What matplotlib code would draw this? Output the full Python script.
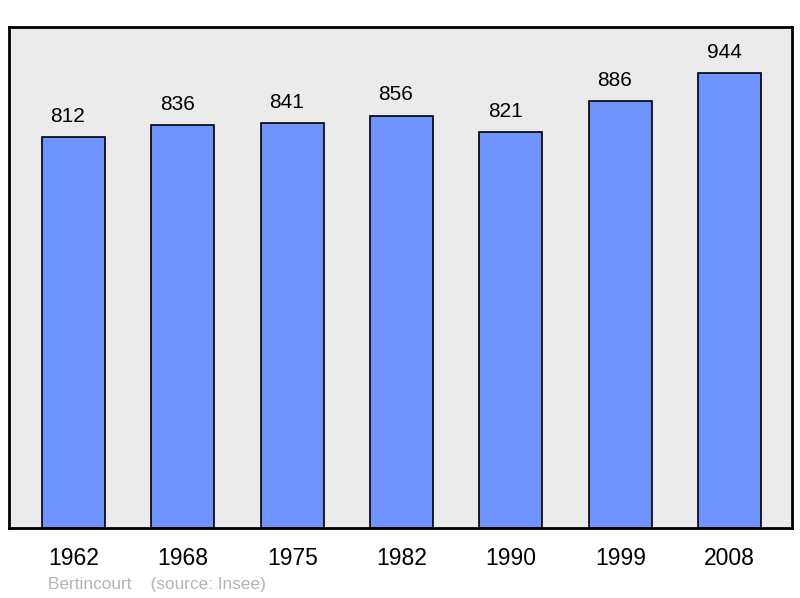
import matplotlib.pyplot as plt

plt.rcParams['font.family'] = ['Liberation Sans', 'DejaVu Sans']

# données
annees = ['1962', '1968', '1975', '1982', '1990', '1999', '2008']
population = [812, 836, 841, 856, 821, 886, 944]

fig = plt.figure(figsize=(8, 5.98), dpi=100)
ax = fig.add_axes([9 / 800, 70 / 598, 783 / 800, 501 / 598])
ax.set_facecolor('#ebebeb')

x = range(len(annees))
bars = ax.bar(x, population, width=0.576, color='#7094ff', edgecolor='black', linewidth=1.2, zorder=2)

# valeurs au-dessus des barres (légèrement décalées à gauche comme l'original)
for xi, v in zip(x, population):
    ax.annotate(str(v), (xi, v), xytext=(-4, 15), textcoords='offset points',
                ha='center', va='center', fontsize=15)

ax.set_xlim(-0.59, 6.57)
ax.set_ylim(0, 1040)
ax.set_yticks([])
ax.set_xticks(list(x))
ax.set_xticklabels(annees, fontsize=16.5)
ax.tick_params(axis='x', length=0, pad=14)
for lab in ax.get_xticklabels():
    lab.set_x(lab.get_position()[0])
for s in ax.spines.values():
    s.set_linewidth(2)

fig.text(48 / 800, 1 - 584 / 598, 'Bertincourt    (source: Insee)', color='#b4b4b4',
         fontsize=12.4, ha='left', va='center')

fig.savefig('out.png', dpi=100)
